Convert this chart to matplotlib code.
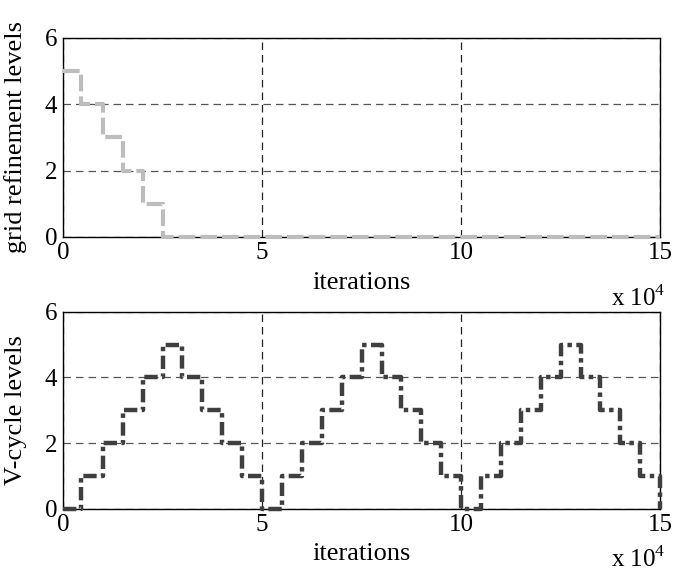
import matplotlib
matplotlib.use("Agg")
import matplotlib.pyplot as plt
import numpy as np

# step boundaries in iterations (x 10^4 on the axis)
grid_x = [0, 4500, 10000, 15000, 20000, 25000, 150000]
grid_levels = [5, 4, 3, 2, 1, 0, 0]

vcycle_x = [0, 4500, 10000, 15000, 20000, 25000, 30000, 35000, 40000, 45000,
            50000, 55000, 60000, 65000, 70000, 75000, 80000, 85000, 90000, 95000,
            100000, 105000, 110000, 115000, 120000, 125000, 130000, 135000, 140000, 145000,
            150000]
vcycle_levels = [0, 1, 2, 3, 4, 5, 4, 3, 2, 1,
                 0, 1, 2, 3, 4, 5, 4, 3, 2, 1,
                 0, 1, 2, 3, 4, 5, 4, 3, 2, 1,
                 0]

x_ticks = [0, 50000, 100000, 150000]
x_ticklabels = ["0", "5", "10", "15"]
y_ticks = [0, 2, 4, 6]

plt.rcParams["font.family"] = ["Liberation Serif", "DejaVu Serif"]
plt.rcParams["mathtext.fontset"] = "custom"
plt.rcParams["mathtext.rm"] = "Liberation Serif"

fig = plt.figure(figsize=(6.74, 5.75), dpi=100)
ax_top = fig.add_axes([0.0935, 0.588, 0.886, 0.346])
ax_bot = fig.add_axes([0.0935, 0.115, 0.886, 0.343])

ax_top.step(grid_x, grid_levels, where="post", color="#BDBDBD", lw=3.0,
            linestyle=(0, (4, 1.2)), clip_on=False, zorder=3)
ax_bot.step(vcycle_x, vcycle_levels, where="post", color="#3F3F3F", lw=3.2,
            linestyle=(0, (3, 1, 1, 1)), clip_on=False, zorder=3)

for ax, ylabel, xoff in [(ax_top, "grid refinement levels", -44),
                         (ax_bot, "V-cycle levels", -36)]:
    ax.set_xlim(0, 150000)
    ax.set_ylim(0, 6)
    ax.set_xticks(x_ticks)
    ax.set_xticklabels(x_ticklabels)
    ax.set_yticks(y_ticks)
    ax.tick_params(length=0, labelsize=18, pad=4)
    ax.xaxis.grid(True, color="#222222", lw=0.9, linestyle=(0, (6, 4)))
    ax.yaxis.grid(True, color="#555555", lw=0.9, linestyle=(0, (6, 4)))
    ax.set_axisbelow(True)
    for sp in ax.spines.values():
        sp.set_linewidth(1.0)
        sp.set_color("black")
    ax.set_xlabel("iterations", fontsize=19, labelpad=0)
    ax.xaxis.set_label_coords(0.5, -0.175)
    ax.set_ylabel(ylabel, fontsize=19, labelpad=2)
    ax.yaxis.set_label_coords(-0.06, 0.5)
    ax.annotate(r"x 10$^4$", xy=(1.0, 0.0), xycoords="axes fraction",
                xytext=(4, xoff), textcoords="offset points",
                ha="right", va="center", fontsize=18)

fig.savefig("out.png", dpi=100)
